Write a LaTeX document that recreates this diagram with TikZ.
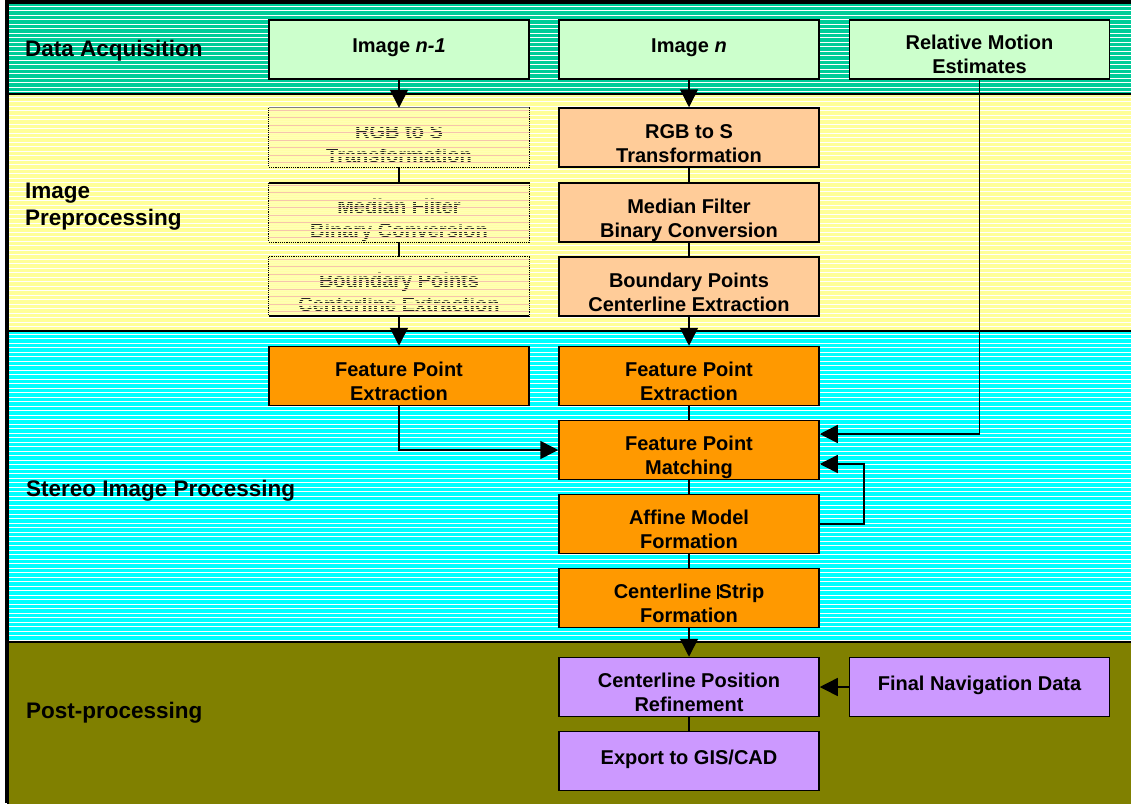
\documentclass[tikz,border=0pt]{standalone}
\usepackage{fontspec}
\setmainfont{Liberation Sans}
\usetikzlibrary{arrows.meta,calc}
\definecolor{bandteal}{HTML}{00CC99}
\definecolor{bandyel}{HTML}{FFFF99}
\definecolor{bandcyan}{HTML}{00FFFF}
\definecolor{bandolive}{HTML}{808000}
\definecolor{boxgreen}{HTML}{CCFFCC}
\definecolor{boxpeach}{HTML}{FFCC99}
\definecolor{boxorange}{HTML}{FF9900}
\definecolor{boxlav}{HTML}{CC99FF}
\definecolor{ghostfill}{HTML}{FFFFB4}
\definecolor{ghoststripe}{HTML}{FFFFA8}
\definecolor{ghostpink}{HTML}{F6C4AC}
\begin{document}
\begin{tikzpicture}[x=1pt,y=-1pt,
  box/.style={draw=black, line width=1.5pt, minimum width=260pt, minimum height=59pt, inner sep=0pt},
  ghost/.style={fill=ghostfill, minimum width=260pt, minimum height=59pt, inner sep=0pt},
  btxt/.style={anchor=north, inner sep=0pt, align=center, font=\bfseries\fontsize{20}{24}\selectfont, execute at begin node=\strut},
  gtxt/.style={btxt, text=black!85},
  bandlbl/.style={anchor=north west, inner sep=0pt, align=left, font=\bfseries\fontsize{22.5}{27}\selectfont, execute at begin node=\strut},
  band/.style={draw=black, line width=2pt},
  stripe/.style={white, line width=0.9pt},
  ln/.style={draw=black, line width=1.5pt},
  arr/.style={draw=black, line width=1.5pt, -{Triangle[length=18pt,width=18pt]}}]
\useasboundingbox (0,0) rectangle (1131,803);

% ---------------- bands ----------------
\fill[bandteal] (8,3) rectangle (1140,94);
\foreach \y in {6,10.5,...,92} \draw[stripe] (8,\y) -- (1140,\y);
\fill[bandyel] (8,94) rectangle (1140,331);
\foreach \y in {97,101.5,...,329} \draw[stripe] (8,\y) -- (1140,\y);
\fill[bandcyan] (8,331) rectangle (1140,642);
\foreach \y in {334,338.5,...,640} \draw[stripe] (8,\y) -- (1140,\y);
\fill[bandolive] (8,642) rectangle (1140,810);
\draw[band] (8,3) rectangle (1140,94);
\draw[band] (8,94) rectangle (1140,331);
\draw[band] (8,331) rectangle (1140,642);
\draw[band] (8,642) rectangle (1140,810);
\draw[black, line width=4pt] (7,0) -- (7,803);
\draw[black, line width=4pt] (5,1.5) -- (1131,1.5);

% ---------------- band labels ----------------
\node[bandlbl] (lblacq) at (25,37.1) {Data Acquisition};
\node[bandlbl] (lblpre) at (25,183.1) {Image\\Preprocessing};
\node[bandlbl] (lblste) at (26,477.1) {Stereo Image Processing};
\node[bandlbl] (lblpost) at (26,699.1) {Post-processing};

% ---------------- data acquisition ----------------
\node[box, fill=boxgreen] (img1) at (399,49.5) {};
\node[btxt] (img1t) at (399,35.2) {Image \textit{n-1}};
\node[box, fill=boxgreen] (img2) at (689,49.5) {};
\node[btxt] (img2t) at (689,35.2) {Image \textit{n}};
\node[box, fill=boxgreen] (rel) at (979.5,49.5) {};
\node[btxt] (relt) at (979.5,35.2) {Relative Motion\\Estimates};

% ---------------- ghost column (image n-1 preprocessing) ----------------
\node[ghost] (g1) at (399,137.5) {};
\node[gtxt] (g1t) at (399,124.2) {RGB to S\\Transformation};
\node[ghost] (g2) at (399,212.5) {};
\node[gtxt] (g2t) at (399,199.2) {Median Filter\\Binary Conversion};
\node[ghost] (g3) at (399,286.5) {};
\node[gtxt] (g3t) at (399,273.2) {Boundary Points\\Centerline Extraction};
\foreach \g in {g1,g2,g3}{
  \begin{scope}
    \clip (\g.north west) rectangle (\g.south east);
    \foreach \k in {0,...,30}
      \draw[ghoststripe, line width=1.2pt] ($(\g.north west)+(-2,1+2*\k)$) -- ($(\g.north east)+(2,1+2*\k)$);
    \foreach \k in {0,...,8}
      \draw[ghostpink, line width=0.8pt] ($(\g.north west)+(-2,2.2+7.5*\k)$) -- ($(\g.north east)+(2,2.2+7.5*\k)$);
  \end{scope}
  \draw[black, densely dotted, line width=1.2pt] (\g.north west) rectangle (\g.south east);
}
\draw[gray, line width=1.2pt] (g1.north west) -- (g1.north east);
\draw[black, line width=1.5pt] (g2.north west) -- (g2.north east);
\draw[black, line width=1.5pt] (g3.south west) -- (g3.south east);

% ---------------- image n preprocessing ----------------
\node[box, fill=boxpeach] (rgb) at (689,137.5) {};
\node[btxt] (rgbt) at (689,124.2) {RGB to S\\Transformation};
\node[box, fill=boxpeach] (med) at (689,212.5) {};
\node[btxt] (medt) at (689,199.2) {Median Filter\\Binary Conversion};
\node[box, fill=boxpeach] (bnd) at (689,286.5) {};
\node[btxt] (bndt) at (689,273.2) {Boundary Points\\Centerline Extraction};

% ---------------- stereo processing ----------------
\node[box, fill=boxorange] (fpe1) at (399,376) {};
\node[btxt] (fpe1t) at (399,362.2) {Feature Point\\Extraction};
\node[box, fill=boxorange] (fpe2) at (689,376) {};
\node[btxt] (fpe2t) at (689,362.2) {Feature Point\\Extraction};
\node[box, fill=boxorange] (match) at (689,450) {};
\node[btxt] (matcht) at (689,436.2) {Feature Point\\Matching};
\node[box, fill=boxorange] (aff) at (689,524) {};
\node[btxt] (afft) at (689,510.2) {Affine Model\\Formation};
\node[box, fill=boxorange] (strip) at (689,598) {};
\node[btxt] (stript) at (689,584.2) {Centerline \rule[0pt]{1.5pt}{14pt}Strip\\Formation};

% ---------------- post-processing ----------------
\node[box, fill=boxlav] (refine) at (689,687) {};
\node[btxt] (refinet) at (689,673.2) {Centerline Position\\Refinement};
\node[box, fill=boxlav] (final) at (979.5,687) {};
\node[btxt] (finalt) at (979.5,673.2) {Final Navigation Data};
\node[box, fill=boxlav] (export) at (689,761) {};
\node[btxt] (exportt) at (689,747.2) {Export to GIS/CAD};

% ---------------- connectors ----------------
\draw[arr] (img1) -- (g1);
\draw[ln] (g1) -- (g2);
\draw[ln] (g2) -- (g3);
\draw[arr] (g3) -- (fpe1);
\draw[arr] (img2) -- (rgb);
\draw[ln] (rgb) -- (med);
\draw[ln] (med) -- (bnd);
\draw[arr] (bnd) -- (fpe2);
\draw[ln] (fpe2) -- (match);
\draw[ln] (match) -- (aff);
\draw[ln] (aff) -- (strip);
\draw[arr] (strip) -- (refine);
\draw[ln] (refine) -- (export);
\draw[arr] (final) -- (refine);
\draw[arr] (fpe1.south) |- (match.west);
\draw[arr] (rel.south) |- ([yshift=16pt]match.east);
\draw[arr] (aff.east) -- ++(44,0) |- ([yshift=-14pt]match.east);
\end{tikzpicture}
\end{document}
